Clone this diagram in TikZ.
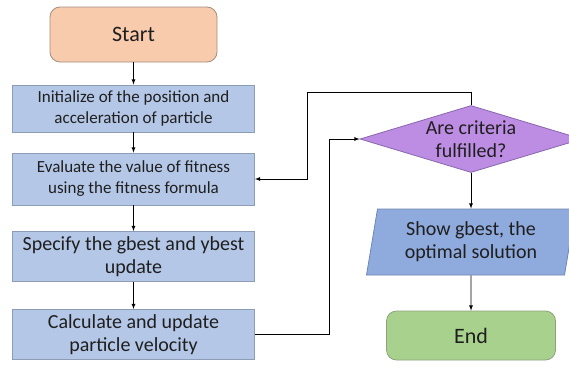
\documentclass[tikz,border=0pt]{standalone}
\usepackage{fontspec}
\setmainfont{Carlito}
\usetikzlibrary{shapes,arrows,positioning}
\definecolor{startfill}{HTML}{F8CBAD}
\definecolor{startline}{HTML}{A38E80}
\definecolor{procfill}{HTML}{B4C7E7}
\definecolor{procline}{HTML}{8D9DB8}
\definecolor{critfill}{HTML}{BC8DE3}
\definecolor{critline}{HTML}{8A67AC}
\definecolor{iofill}{HTML}{8FAADC}
\definecolor{ioline}{HTML}{6F86B2}
\definecolor{endfill}{HTML}{A9D18E}
\definecolor{endline}{HTML}{8DA37F}
\tikzset{basic/.style={draw,text=black!88,align=center,inner sep=2pt,line width=0.8pt}}
\tikzset{term/.style={basic,rectangle,rounded corners=10pt,minimum width=167pt,minimum height=55pt,font=\fontsize{22}{26}\selectfont}}
\tikzset{proc/.style={basic,rectangle,fill=procfill,draw=procline,minimum width=242pt,minimum height=50pt}}
\tikzset{small/.style={font=\fontsize{17}{21}\selectfont}}
\tikzset{large/.style={font=\fontsize{20}{23}\selectfont}}
\tikzset{decide/.style={basic,diamond,aspect=3.3,inner sep=0pt,fill=critfill,draw=critline,minimum width=222pt,minimum height=67pt,large}}
\tikzset{io/.style={basic,trapezium,trapezium left angle=76,trapezium right angle=104,trapezium stretches body,fill=iofill,draw=ioline,minimum width=209pt,minimum height=66pt,large}}
\tikzset{arrow/.style={draw,line width=0.8pt,-latex}}

\begin{document}
\begin{tikzpicture}[x=1pt,y=1pt,node distance=74pt]
    \useasboundingbox (0,0) rectangle (569,-364);

    \node[term,fill=startfill,draw=startline] (start) at (133.5,-34.5) {Start};
    \node[proc,small,below of=start,minimum height=47pt] (init) {Initialize of the position and\\ acceleration of particle};
    \node[proc,small,below of=init,node distance=70.5pt,minimum height=52pt] (eval) {Evaluate the value of fitness\\ using the fitness formula};
    \node[proc,large,below of=eval,node distance=77.5pt] (spec) {Specify the gbest and ybest\\ update};
    \node[proc,large,below of=spec,node distance=78pt] (calc) {Calculate and update\\ particle velocity};

    \node[decide] (crit) at (471,-139) {Are criteria\\ fulfilled?};
    \node[io,below of=crit,node distance=103pt] (show) {Show gbest, the\\ optimal solution};
    \node[term,fill=endfill,draw=endline,below of=show,node distance=93.5pt,minimum width=169pt,minimum height=49pt] (end) {End};

    \coordinate (back) at (307,-92);
    \coordinate (bend) at (329,-334.5);

        \path[arrow] (start) -- (init);
        \path[arrow] (init) -- (eval);
        \path[arrow] (eval) -- (spec);
        \path[arrow] (spec) -- (calc);
        \path[arrow] (calc.east) -| (bend |- crit.west) -- (crit.west);
        \path[arrow] (crit.north) |- (back) |- (eval.east);
        \path[arrow] (crit) -- (show);
        \path[arrow] (show) -- (end);
\end{tikzpicture}
\end{document}
